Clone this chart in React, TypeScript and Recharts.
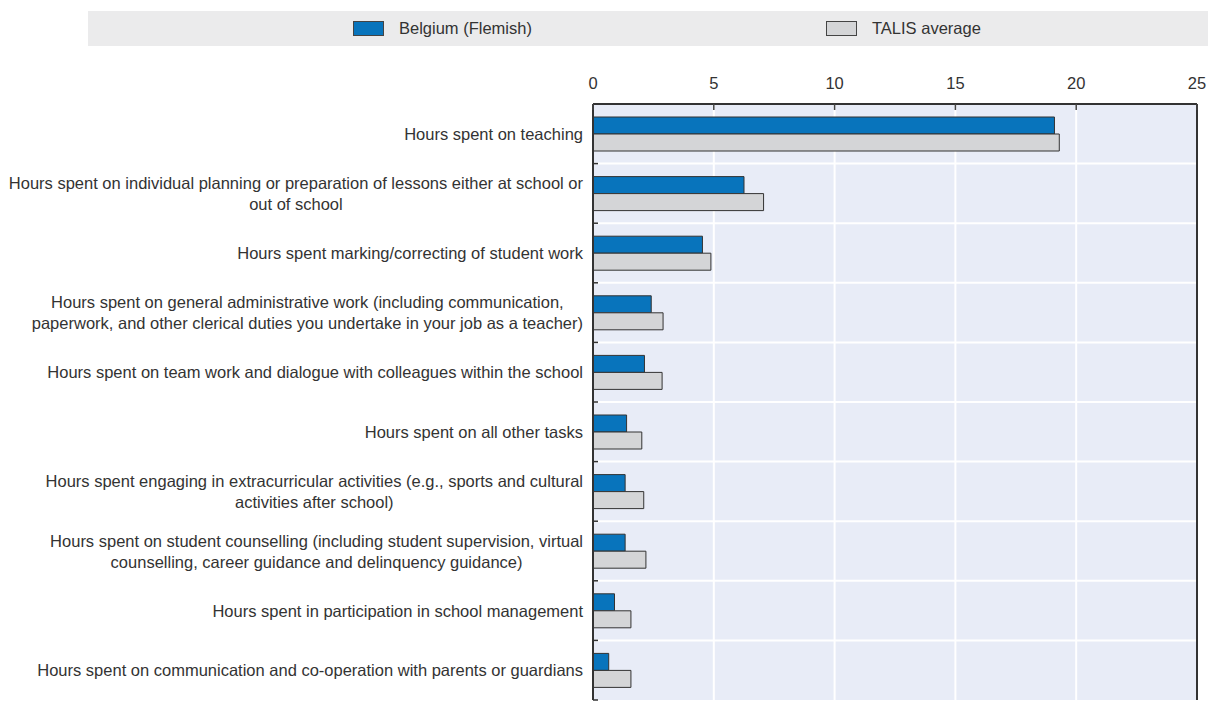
import React from 'react'
import { BarChart, Bar, XAxis, YAxis, CartesianGrid, ReferenceLine } from 'recharts'

// categories, wrapped the same way as the source figure
const categories = [
  'Hours spent on teaching',
  'Hours spent on individual planning or preparation of lessons either at school or\nout of school',
  'Hours spent marking/correcting of student work',
  'Hours spent on general administrative work (including communication,\npaperwork, and other clerical duties you undertake in your job as a teacher)',
  'Hours spent on team work and dialogue with colleagues within the school',
  'Hours spent on all other tasks',
  'Hours spent engaging in extracurricular activities (e.g., sports and cultural\nactivities after school)',
  'Hours spent on student counselling (including student supervision, virtual\ncounselling, career guidance and delinquency guidance)',
  'Hours spent in participation in school management',
  'Hours spent on communication and co-operation with parents or guardians',
]

const belgium = [19.1, 6.25, 4.53, 2.41, 2.13, 1.39, 1.33, 1.33, 0.89, 0.65]
const talis = [19.3, 7.06, 4.88, 2.9, 2.86, 2.02, 2.1, 2.19, 1.57, 1.57]

const xTicks = [0, 5, 10, 15, 20, 25]

const seriesNames = ['Belgium (Flemish)', 'TALIS average']
const colors = ['#0874bc', '#d4d5d7']

const data = categories.map((c, i) => ({ name: c, belgium: belgium[i], talis: talis[i] }))

const W = 1208
const H = 701
const PLOT_LEFT = 593
const PLOT_TOP = 104
const MARGIN_RIGHT = 11
const MARGIN_BOTTOM = 1
const FONT = '16.5px "Liberation Sans", Arial, sans-serif'
const TEXT = '#333'

let ctx: CanvasRenderingContext2D | null = null
const measure = (s: string) => {
  if (!ctx) ctx = document.createElement('canvas').getContext('2d')
  if (!ctx) return s.length * 7.5
  ctx.font = FONT
  return ctx.measureText(s).width
}

const XTick = (props: any) => {
  const { x, payload } = props
  return (
    <g>
      <text x={x} y={PLOT_TOP - 15} textAnchor="middle" fill={TEXT} style={{ font: FONT }}>
        {payload.value}
      </text>
      <line x1={x} x2={x} y1={PLOT_TOP} y2={PLOT_TOP + 6} stroke="#444" strokeWidth={1.5} />
    </g>
  )
}

const YTick = (props: any) => {
  const { y, payload } = props
  const lines: string[] = String(payload.value).split('\n')
  const band = (H - MARGIN_BOTTOM - PLOT_TOP) / categories.length
  const maxW = Math.max(...lines.map(measure))
  const cx = PLOT_LEFT - 10 - maxW / 2
  const lh = 21
  const start = y - ((lines.length - 1) * lh) / 2 + 6
  return (
    <g>
      {lines.map((l, i) => (
        <text key={i} x={cx} y={start + i * lh} textAnchor="middle" fill={TEXT} style={{ font: FONT }}>
          {l}
        </text>
      ))}
      <line x1={PLOT_LEFT} x2={PLOT_LEFT + 5} y1={y + band / 2} y2={y + band / 2} stroke="#333" strokeWidth={1.5} />
    </g>
  )
}

const Swatch = ({ color, label, left }: { color: string; label: string; left: number }) => (
  <div style={{ position: 'absolute', left, top: 11, height: 35, display: 'flex', alignItems: 'center' }}>
    <div style={{ width: 29, height: 13, background: color, border: '1px solid #444' }} />
    <span style={{ marginLeft: 15, font: FONT, color: TEXT }}>{label}</span>
  </div>
)

export default function App() {
  return (
    <div style={{ position: 'absolute', left: 0, top: 0, width: W, height: H, background: '#fff' }}>
      <div style={{ position: 'absolute', left: 88, top: 11, width: W - 88, height: 35, background: '#ebebec' }} />
      <Swatch color={colors[0]} label={seriesNames[0]} left={353} />
      <Swatch color={colors[1]} label={seriesNames[1]} left={826} />
      <div style={{ position: 'absolute', left: 0, top: 0 }}>
        <BarChart
          width={W}
          height={H}
          data={data}
          layout="vertical"
          margin={{ top: PLOT_TOP - 30, right: MARGIN_RIGHT, bottom: MARGIN_BOTTOM, left: 0 }}
          barGap={0}
          barSize={17}
        >
          <CartesianGrid
            fill="#e8ecf7"
            stroke="#fff"
            strokeWidth={2}
            horizontalCoordinatesGenerator={({ offset }: any) =>
              categories.slice(1).map((_, i) => offset.top + ((i + 1) * offset.height) / categories.length)
            }
          />
          <XAxis
            type="number"
            orientation="top"
            domain={[0, 25]}
            ticks={xTicks}
            height={30}
            axisLine={{ stroke: '#333', strokeWidth: 2 }}
            tickLine={false}
            tick={<XTick />}
          />
          <YAxis
            type="category"
            dataKey="name"
            width={PLOT_LEFT}
            axisLine={{ stroke: '#333', strokeWidth: 2 }}
            tickLine={false}
            interval={0}
            tick={<YTick />}
          />
          <ReferenceLine x={25} stroke="#333" strokeWidth={2} />
          <Bar dataKey="belgium" name={seriesNames[0]} fill={colors[0]} stroke="#333" strokeWidth={1} isAnimationActive={false} />
          <Bar dataKey="talis" name={seriesNames[1]} fill={colors[1]} stroke="#333" strokeWidth={1} isAnimationActive={false} />
        </BarChart>
      </div>
    </div>
  )
}
